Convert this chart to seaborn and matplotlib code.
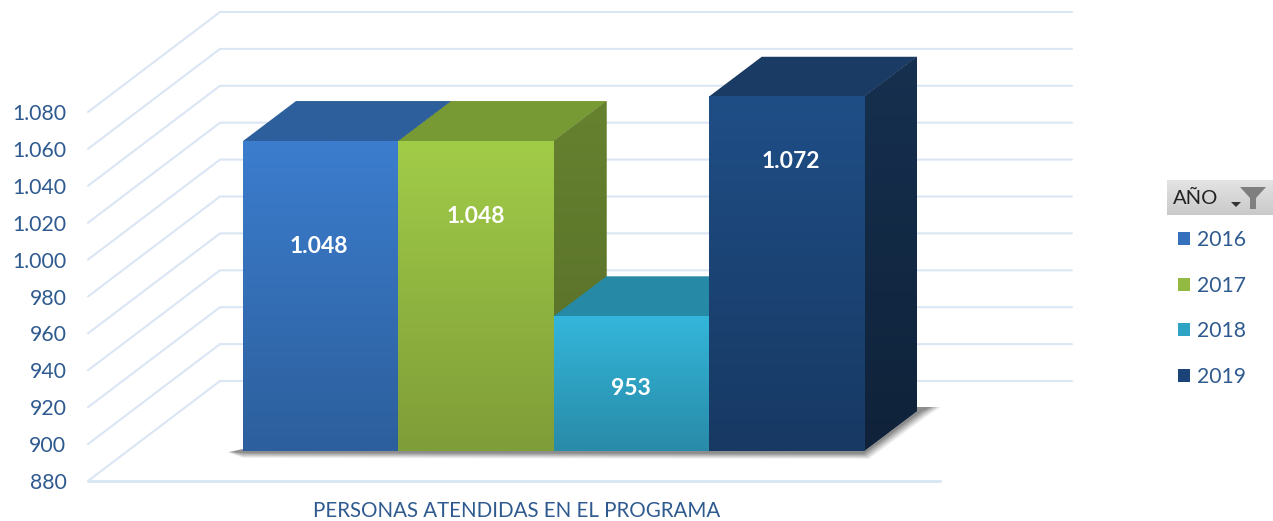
import numpy as np
import matplotlib
matplotlib.use("Agg")
import matplotlib.pyplot as plt
import seaborn as sns
from matplotlib.colors import to_rgb
from matplotlib.patches import Polygon
from matplotlib.ticker import FuncFormatter

# datos
anios = ["2016", "2017", "2018", "2019"]
personas = [1048, 1048, 953, 1072]
etiquetas = ["1.048", "1.048", "953", "1.072"]
marcas_y = [880, 900, 920, 940, 960, 980, 1000, 1020, 1040, 1060, 1080]
titulo_x = "PERSONAS ATENDIDAS EN EL PROGRAMA"

# colores de cada cara (arriba, abajo)
frente = [("#3c7dce", "#2c5f9c"), ("#a1cc48", "#7f9d38"), ("#33b6da", "#298ba8"), ("#1f4e86", "#173963")]
lateral = [("#24508a", "#1f4677"), ("#66822f", "#566c29"), ("#237a94", "#1f6a80"), ("#16304f", "#0f2239")]
tapa = ["#2c5f9c", "#789a35", "#2689a5", "#1a3b63"]
paleta = ["#3470bb", "#93b942", "#2fa3c4", "#1b4377"]
c_texto = "#2f5a8f"
c_rejilla = "#dbe6f5"

sns.set_theme(style="white")
plt.rcParams['font.family'] = ['Lato', 'DejaVu Sans']

W, H = 1273, 521
PX_X = 155.25  # pixeles por categoria
PX_Y = 1.845   # pixeles por persona
fig = plt.figure(figsize=(W / 100, H / 100), dpi=100)


def caja(izq, abajo, der, arriba):
    return fig.add_axes([izq / W, 1 - abajo / H, (der - izq) / W, (abajo - arriba) / H])


# suelo y pared del fondo, con el eje y
ax_suelo = caja(88, 481, 940, 0)
ax_suelo.patch.set_visible(False)
ax_suelo.set_xlim(0, 852 / PX_X)
ax_suelo.set_ylim(880, 880 + 481 / PX_Y)
prof_x, prof_y = 132 / PX_X, 100 / PX_Y
fin = 852 / PX_X
for m in marcas_y:
    ax_suelo.plot([0, prof_x, fin + prof_x], [m, m + prof_y, m + prof_y],
                  color=c_rejilla, lw=1.5, clip_on=False, solid_joinstyle="miter")
ax_suelo.plot([0, fin], [880, 880], color=c_rejilla, lw=2.2, clip_on=False)
sns.despine(ax=ax_suelo, left=True, bottom=True)
ax_suelo.set_yticks(marcas_y)
ax_suelo.yaxis.set_major_formatter(FuncFormatter(lambda v, p: f"{int(v):,}".replace(",", ".")))
ax_suelo.tick_params(axis="y", length=0, pad=15.5, labelsize=15.3, labelcolor=c_texto)
ax_suelo.set_xticks([])
ax_suelo.set_xlabel(titulo_x, fontsize=14.8, color=c_texto, labelpad=14.5, x=0.503)

# barras
ax = caja(243, 451, 243 + PX_X * 4.4, 0)
ax.patch.set_visible(False)
sns.barplot(x=anios, y=personas, hue=anios, palette=paleta, width=1, dodge=False,
            saturation=1, linewidth=0, legend=True, ax=ax)
ax.set_xlim(-0.5, 3.9)
ax.set_ylim(880, 880 + 451 / PX_Y)
ax.axis("off")
barras = sorted([p for p in ax.patches if p.get_height() > 0], key=lambda b: b.get_x())


def degradado(colores, extent, zorder, clip=None):
    img = np.linspace(to_rgb(colores[0]), to_rgb(colores[1]), 128)[:, None, :]
    im = ax.imshow(img, extent=extent, aspect="auto", zorder=zorder)
    if clip is not None:
        im.set_clip_path(clip)


dx, dy = 53 / PX_X, 40 / PX_Y
xa, ya = 1 / PX_X, 1 / PX_Y

# sombra bajo las barras
izq_base, der_base = -0.5, 3.5
for g, a in [(5, 0.07), (4, 0.09), (3, 0.11), (2, 0.13), (1, 0.15), (0, 0.18)]:
    ax.add_patch(Polygon([(izq_base - (11 + g) * xa, 880 - 1 * ya),
                          (izq_base, 880 + 2 * ya),
                          (der_base + dx, 880 + dy + 4 * ya),
                          (der_base + dx + (14 + 2 * g) * xa, 880 + dy + 4 * ya),
                          (der_base + dx + (4 + g) * xa, 880 + dy - (1 + g) * ya),
                          (der_base + g * xa, 880 - (3 + g) * ya),
                          (izq_base, 880 - (2 + g) * ya)],
                         closed=True, fc="#303030", ec="none", alpha=a, clip_on=False, zorder=1))

for i, p in enumerate(barras):
    x0, x1, v = p.get_x(), p.get_x() + p.get_width(), p.get_height()
    z = 2 + 2 * i
    p.set_zorder(z)
    ax.add_patch(Polygon([(x0, v), (x0 + dx, v + dy), (x1 + dx, v + dy), (x1, v)],
                         closed=True, fc=tapa[i], ec="none", zorder=z))
    lado = Polygon([(x1, 880), (x1 + dx, 880 + dy), (x1 + dx, v + dy), (x1, v)],
                   closed=True, fc=lateral[i][0], ec="none", zorder=z)
    ax.add_patch(lado)
    degradado(lateral[i], (x1, x1 + dx, 880, v + dy), z + 0.5, clip=lado)
    degradado(frente[i], (x0, x1, 880, v), z + 1)

ax.set_xlim(-0.5, 3.9)
ax.set_ylim(880, 880 + 451 / PX_Y)

# etiquetas de valor (altura y desplazamiento como en el original)
alturas = [991, 1007, 914, 1037]
despl = [-2, 0, 0, 4]
for i, t in enumerate(etiquetas):
    ax.text(i + despl[i] * xa, alturas[i], t, ha="center", va="center", color="white",
            fontsize=16.5, fontweight="bold", zorder=30)

# leyenda
sns.move_legend(ax, loc="upper left", bbox_to_anchor=(1178 / W, 1 - 230 / H),
                bbox_transform=fig.transFigure, frameon=False, title=None,
                fontsize=15.2, labelcolor=c_texto, handlelength=0.58, handleheight=0.58,
                handletextpad=0.32, labelspacing=1.21, borderpad=0, borderaxespad=0)

# cabecera de la leyenda
ax_cab = caja(1167, 215, 1273, 180)
ax_cab.imshow(np.linspace(to_rgb("#e4e4e4"), to_rgb("#c9c9c9"), 64)[:, None, :],
              extent=(1167, 1273, 215, 180), aspect="auto")
ax_cab.set_xlim(1167, 1273)
ax_cab.set_ylim(215, 180)
ax_cab.axis("off")
ax_cab.text(1173, 198.5, "AÑO", ha="left", va="center", color="#222222", fontsize=14.5)
ax_cab.add_patch(Polygon([(1240, 187), (1266, 187), (1256, 198), (1256, 209), (1250, 209), (1250, 198)],
                         closed=True, fc="#7f7f7f", ec="none"))
ax_cab.add_patch(Polygon([(1231, 202), (1241, 202), (1236, 207)], closed=True, fc="#333333", ec="none"))

fig.savefig("out.png", dpi=100)
